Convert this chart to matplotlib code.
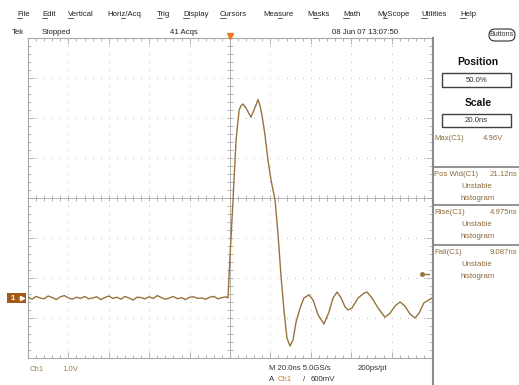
import numpy as np
import matplotlib
matplotlib.use('Agg')
import matplotlib.pyplot as plt
from matplotlib.patches import Rectangle, FancyBboxPatch
from matplotlib.ticker import FixedLocator

plt.rcParams['font.family'] = ['Liberation Sans', 'DejaVu Sans']

W, H = 519, 385

# ch1 baseline noise before the edge (V), sampled every 2 ns from -100 ns
base_v = [0.02, -0.03, 0.04, 0.0, -0.02, 0.05, 0.01, -0.04, 0.03, 0.06,
          0.0, -0.03, 0.02, -0.01, 0.04, -0.02, 0.0, 0.03, -0.04, 0.01,
          0.05, -0.01, 0.02, -0.03, 0.04, 0.0, -0.05, 0.02, 0.01, -0.02,
          0.03, -0.01, 0.06, 0.01, -0.03, 0.0, 0.04, -0.02, 0.01, -0.04,
          0.02, 0.03, -0.01, 0.0, -0.03, 0.02, 0.04, -0.02, 0.01, 0.03]

# pulse and ringing after the trigger (ns, V)
pulse_t = [-1.0, 0.0, 1.5, 3.0, 4.5, 5.4, 6.4, 7.9, 10.4, 11.9,
           13.9, 14.9, 15.8, 17.3, 18.8, 20.3, 22.3, 23.8, 25.2, 26.7,
           28.2, 29.7, 31.2, 32.7, 34.7, 36.6, 39.1, 41.1, 43.6, 46.5,
           49.0, 51.0, 53.0, 55.0, 56.9, 58.4, 60.4, 63.4, 66.3, 67.8,
           70.3, 73.3, 76.7, 79.2, 81.7, 84.2, 86.6, 89.1, 91.6, 93.6,
           96.0, 100.0]
pulse_v = [0.0, 1.03, 2.45, 3.95, 4.7, 4.8, 4.85, 4.75, 4.52, 4.7,
           4.96, 4.8, 4.58, 4.08, 3.45, 2.95, 2.45, 1.58, 0.58, -0.3,
           -1.0, -1.2, -1.05, -0.6, -0.25, 0.0, 0.08, -0.05, -0.42, -0.65,
           -0.35, 0.0, 0.15, 0.0, -0.22, -0.3, -0.25, 0.0, 0.12, 0.15,
           0.0, -0.25, -0.48, -0.38, -0.2, -0.1, -0.2, -0.4, -0.5, -0.38,
           -0.12, 0.0]

trig_level = 0.6

menu_items = ['File', 'Edit', 'Vertical', 'Horiz/Acq', 'Trig', 'Display', 'Cursors',
              'Measure', 'Masks', 'Math', 'MyScope', 'Utilities', 'Help']
menu_hot = [0, 0, 0, 4, 0, 0, 0, 3, 1, 0, 1, 0, 0]

meas_names = ['Pos Wid(C1)', 'Rise(C1)', 'Fall(C1)']
meas_values = ['21.12ns', '4.975ns', '9.087ns']

gcol = '#a8a8a8'
trace_col = '#98723e'
meas_col = '#8c6c3c'

fig = plt.figure(figsize=(W / 100, H / 100), dpi=100)
fig.patch.set_facecolor('white')

# graticule: 10 x 8 divisions
ax = fig.add_axes([28 / W, 1 - 358 / H, 404 / W, 320 / H])
ax.set_xlim(-100, 100)
ax.set_ylim(-1.5, 6.5)
xmaj = np.arange(-100, 101, 20)
xmin = np.arange(-100, 101, 4)
ymaj = np.arange(-1.5, 6.51, 1.0)
ymin = np.arange(-1.5, 6.51, 0.2)
ax.xaxis.set_major_locator(FixedLocator(xmaj))
ax.xaxis.set_minor_locator(FixedLocator(xmin))
ax.yaxis.set_major_locator(FixedLocator(ymaj))
ax.yaxis.set_minor_locator(FixedLocator(ymin))
ax.tick_params(which='both', direction='in', top=True, right=True,
               labelbottom=False, labelleft=False, color=gcol, width=0.6)
ax.tick_params(which='major', length=4.5)
ax.tick_params(which='minor', length=2.2)
for s in ax.spines.values():
    s.set_color(gcol)
    s.set_linewidth(0.8)

# dotted grid lines
for x in xmaj[1:-1]:
    if x != 0:
        ax.plot(np.full(len(ymin), x), ymin, ls='none', marker='s', ms=0.7, color='#b8b8b8', mew=0)
for y in ymaj[1:-1]:
    if abs(y - 2.5) > 1e-6:
        ax.plot(xmin, np.full(len(xmin), y), ls='none', marker='s', ms=0.7, color='#b8b8b8', mew=0)

# center cross with ticks
ax.axvline(0, color=gcol, lw=0.6)
ax.axhline(2.5, color=gcol, lw=0.6)
ax.plot(np.zeros(len(ymin)), ymin, ls='none', marker='_', ms=5, mew=0.6, color=gcol)
ax.plot(xmin, np.full(len(xmin), 2.5), ls='none', marker='|', ms=5, mew=0.6, color=gcol)

# waveform
base_t = np.linspace(-100, -2, len(base_v))
t = np.concatenate([base_t, pulse_t])
v = np.concatenate([base_v, pulse_v])
ax.plot(t, v, color=trace_col, lw=1.0, zorder=5)

# trigger level marker
ax.plot([95, 98.5], [trig_level, trig_level], color=trace_col, lw=1.0, zorder=5)
ax.plot([95], [trig_level], marker='o', ms=2.5, color=trace_col, zorder=5)

# overlay in pixel coordinates for the scope chrome
ov = fig.add_axes([0, 0, 1, 1], zorder=10)
ov.set_xlim(0, W)
ov.set_ylim(H, 0)
ov.axis('off')

renderer = fig.canvas.get_renderer()
fsz = 5.6


def text_w(s):
    if not s:
        return 0.0
    tmp = ov.text(0, 0, s, fontsize=fsz)
    bb = tmp.get_window_extent(renderer)
    tmp.remove()
    return bb.width


# menu bar
menu_x = [17, 42, 68, 107, 157, 183, 220, 263, 307, 343, 377, 421, 460]
for name, x0, k in zip(menu_items, menu_x, menu_hot):
    ov.text(x0, 16, name, fontsize=fsz, color='#202020', va='baseline', ha='left')
    a = x0 + text_w(name[:k])
    b = x0 + text_w(name[:k + 1])
    ov.plot([a, b], [18, 18], color='#202020', lw=0.5)

# status row
ov.text(12, 34, 'Tek', fontsize=fsz, color='#202020', va='baseline')
ov.text(42, 34, 'Stopped', fontsize=fsz, color='#202020', va='baseline')
ov.text(170, 34, '41 Acqs', fontsize=fsz, color='#202020', va='baseline')
ov.text(332, 34, '08 Jun 07 13:07:50', fontsize=fsz, color='#202020', va='baseline')
ov.add_patch(FancyBboxPatch((489, 29), 26, 12, boxstyle='round,pad=0,rounding_size=6',
                            fc='white', ec='#303030', lw=0.8))
ov.text(502, 35, 'Buttons', fontsize=5, color='#303030', ha='center', va='center')

# trigger position marker
ov.plot([230], [36], marker='v', ms=5, color='#f07828', mec='#f07828')

# ground marker
ov.add_patch(Rectangle((7, 293), 19, 10, fc='#a45a14', ec='none'))
ov.text(13, 298.5, '1', fontsize=5.5, color='white', ha='center', va='center', fontweight='bold')
ov.plot([22], [298], marker='>', ms=3, color='white')

# side panel
ov.plot([433, 433], [38, H], color='#8a8a8a', lw=1.5)
ov.text(478, 62, 'Position', fontsize=7.5, fontweight='bold', ha='center', va='center', color='#101010')
ov.add_patch(Rectangle((442, 73), 69, 14, fc='white', ec='#404040', lw=1.0))
ov.text(476.5, 80, '50.0%', fontsize=fsz, ha='center', va='center', color='#303030')
ov.text(478, 103, 'Scale', fontsize=7.5, fontweight='bold', ha='center', va='center', color='#101010')
ov.add_patch(Rectangle((442, 114), 69, 13, fc='white', ec='#404040', lw=1.0))
ov.text(476.5, 120.5, '20.0ns', fontsize=fsz, ha='center', va='center', color='#303030')
ov.text(434, 139, 'Max(C1)', fontsize=fsz, ha='left', va='center', color=meas_col)
ov.text(483, 139, '4.96V', fontsize=fsz, ha='left', va='center', color=meas_col)

sep_y = [167, 205, 245]
for y0, nm, val in zip(sep_y, meas_names, meas_values):
    ov.plot([434, W], [y0, y0], color='#8a8a8a', lw=1.3)
    ov.text(434, y0 + 8, nm, fontsize=fsz, ha='left', va='center', color=meas_col)
    ov.text(517, y0 + 8, val, fontsize=fsz, ha='right', va='center', color=meas_col)
    ov.text(477, y0 + 20, 'Unstable', fontsize=fsz, ha='center', va='center', color=meas_col)
    ov.text(478, y0 + 31, 'histogram', fontsize=fsz, ha='center', va='center', color=meas_col)

# bottom readouts
ov.text(30, 371, 'Ch1', fontsize=fsz, color='#a08050', va='baseline')
ov.text(62, 371, '1.0V', fontsize=fsz, color='#a08050', va='baseline')
ov.text(269, 370, 'M 20.0ns 5.0GS/s', fontsize=fsz, color='#303030', va='baseline')
ov.text(358, 370, '200ps/pt', fontsize=fsz, color='#303030', va='baseline')
ov.text(269, 381, 'A', fontsize=fsz, color='#303030', va='baseline')
ov.text(278, 381, 'Ch1', fontsize=fsz, color='#d08020', va='baseline')
ov.text(303, 381, '/', fontsize=fsz, color='#303030', va='baseline')
ov.text(311, 381, '600mV', fontsize=fsz, color='#303030', va='baseline')

fig.savefig('out.png', dpi=100)
